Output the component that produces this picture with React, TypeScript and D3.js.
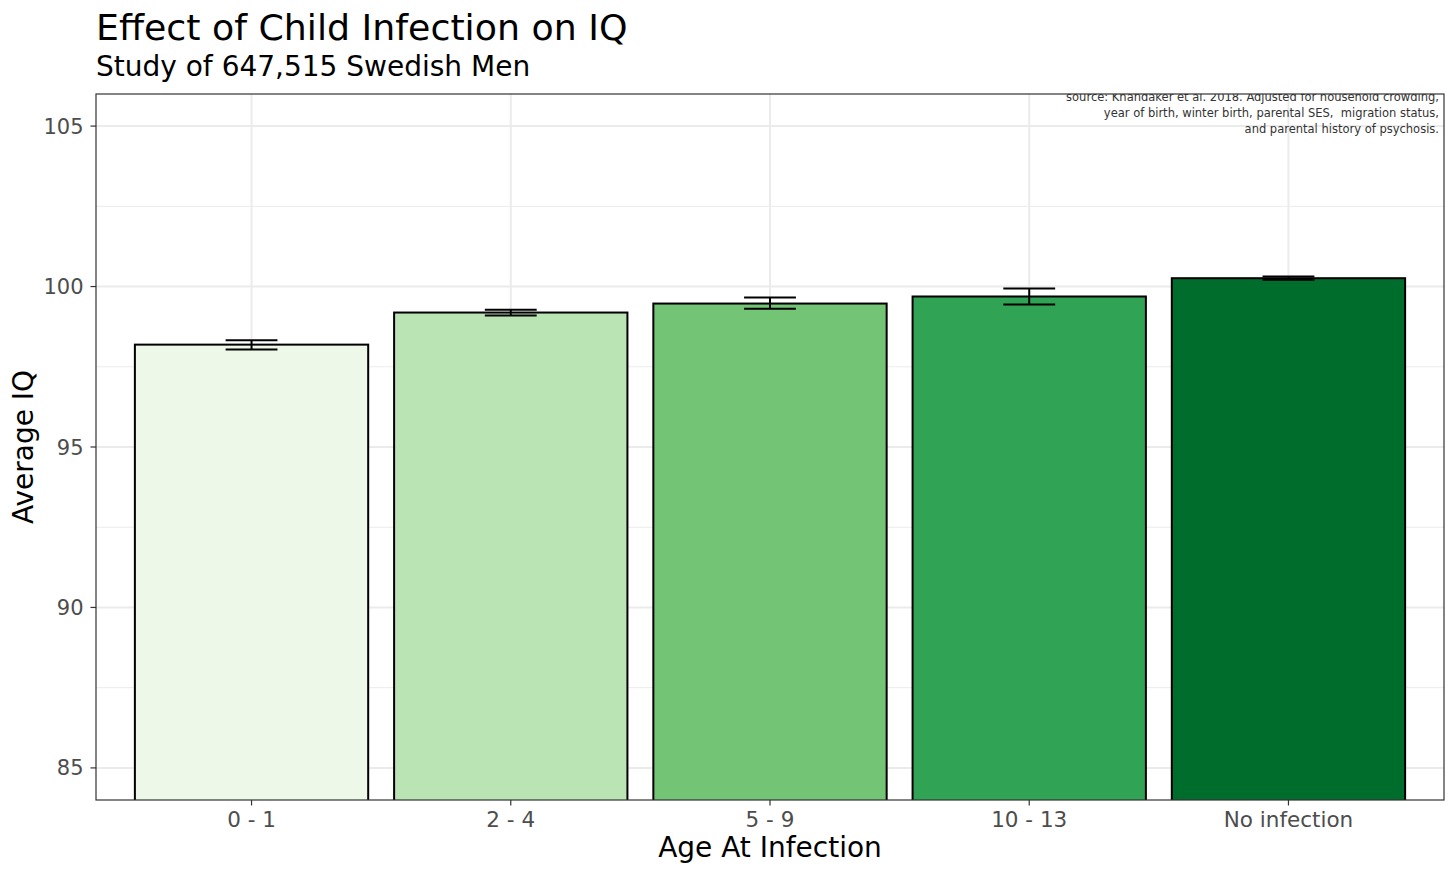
import * as d3 from "d3";

// values
const categories = ["0 - 1", "2 - 4", "5 - 9", "10 - 13", "No infection"];
const meanIQ = [98.19, 99.19, 99.47, 99.69, 100.26];
const lowerCI = [98.04, 99.1, 99.31, 99.44, 100.21];
const upperCI = [98.33, 99.28, 99.66, 99.94, 100.31];
const fills = ["#EDF8E9", "#BAE4B3", "#74C476", "#31A354", "#006D2C"];
const yTicks = [85, 90, 95, 100, 105];
const yMinor = [87.5, 92.5, 97.5, 102.5];
const sourceNote = [
  "source: Khandaker et al. 2018. Adjusted for household crowding,",
  "year of birth, winter birth, parental SES,  migration status,",
  "and parental history of psychosis.",
];

const W = 1456;
const H = 874;
const panel = { left: 96, right: 1444, top: 94, bottom: 800 };
const font = "DejaVu Sans, Verdana, sans-serif";

export default function App() {
  const x = d3
    .scaleBand<string>()
    .domain(categories)
    .range([panel.left, panel.right])
    .paddingInner(0.1)
    .paddingOuter(0.15);

  const y = d3.scaleLinear().domain([84, 106]).range([panel.bottom, panel.top]);

  const capHalf = x.step() * 0.1;
  const mid = (c: string) => (x(c) as number) + x.bandwidth() / 2;

  return (
    <svg
      width={W}
      height={H}
      style={{ position: "absolute", left: 0, top: 0, background: "#fff" }}
      fontFamily={font}
    >
      <defs>
        <clipPath id="panelClip">
          <rect
            x={panel.left}
            y={panel.top}
            width={panel.right - panel.left}
            height={panel.bottom - panel.top}
          />
        </clipPath>
      </defs>

      {/* titles */}
      <text x={96} y={40} fontSize={36.3} fill="#000">
        Effect of Child Infection on IQ
      </text>
      <text x={96} y={76} fontSize={28} fill="#000">
        Study of 647,515 Swedish Men
      </text>

      <g clipPath="url(#panelClip)">
        {/* grid */}
        {yMinor.map((t) => (
          <line key={"mn" + t} x1={panel.left} x2={panel.right} y1={y(t)} y2={y(t)} stroke="#EBEBEB" strokeWidth={1} />
        ))}
        {yTicks.map((t) => (
          <line key={"mj" + t} x1={panel.left} x2={panel.right} y1={y(t)} y2={y(t)} stroke="#EBEBEB" strokeWidth={2} />
        ))}
        {categories.map((c) => (
          <line key={"v" + c} x1={mid(c)} x2={mid(c)} y1={panel.top} y2={panel.bottom} stroke="#EBEBEB" strokeWidth={2} />
        ))}

        {/* bars */}
        {categories.map((c, i) => (
          <rect
            key={"b" + c}
            x={x(c) as number}
            y={y(meanIQ[i])}
            width={x.bandwidth()}
            height={y(84) - y(meanIQ[i]) + 2}
            fill={fills[i]}
            stroke="#000"
            strokeWidth={2}
          />
        ))}

        {/* error bars */}
        {categories.map((c, i) => (
          <g key={"e" + c} stroke="#000" strokeWidth={2}>
            <line x1={mid(c)} x2={mid(c)} y1={y(lowerCI[i])} y2={y(upperCI[i])} />
            <line x1={mid(c) - capHalf} x2={mid(c) + capHalf} y1={y(lowerCI[i])} y2={y(lowerCI[i])} />
            <line x1={mid(c) - capHalf} x2={mid(c) + capHalf} y1={y(upperCI[i])} y2={y(upperCI[i])} />
          </g>
        ))}

        {/* source note */}
        {sourceNote.map((s, i) => (
          <text
            key={"s" + i}
            x={1439}
            y={101 + i * 16}
            fontSize={11.5}
            textAnchor="end"
            fill="#333"
            style={{ whiteSpace: "pre" }}
          >
            {s}
          </text>
        ))}
      </g>

      {/* panel border */}
      <rect
        x={panel.left}
        y={panel.top}
        width={panel.right - panel.left}
        height={panel.bottom - panel.top}
        fill="none"
        stroke="#333333"
        strokeWidth={1.2}
      />

      {/* y axis */}
      {yTicks.map((t) => (
        <g key={"yt" + t}>
          <line x1={panel.left - 5.5} x2={panel.left} y1={y(t)} y2={y(t)} stroke="#333" strokeWidth={1.2} />
          <text x={panel.left - 12.5} y={y(t)} dy="0.36em" textAnchor="end" fontSize={21} fill="#4D4D4D">
            {t}
          </text>
        </g>
      ))}

      {/* x axis */}
      {categories.map((c) => (
        <g key={"xt" + c}>
          <line x1={mid(c)} x2={mid(c)} y1={panel.bottom} y2={panel.bottom + 5.5} stroke="#333" strokeWidth={1.2} />
          <text x={mid(c)} y={827} textAnchor="middle" fontSize={21.5} fill="#4D4D4D">
            {c}
          </text>
        </g>
      ))}

      <text x={(panel.left + panel.right) / 2} y={857} textAnchor="middle" fontSize={28} fill="#000">
        Age At Infection
      </text>
      <text
        transform={`translate(33,${(panel.top + panel.bottom) / 2}) rotate(-90)`}
        textAnchor="middle"
        fontSize={28}
        fill="#000"
      >
        Average IQ
      </text>
    </svg>
  );
}
